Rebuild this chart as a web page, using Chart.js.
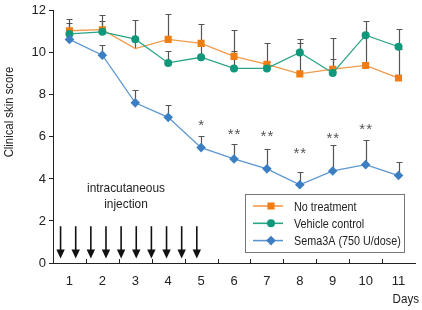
<!DOCTYPE html>
<html>
<head>
<meta charset="utf-8">
<script src="https://cdn.jsdelivr.net/npm/chart.js@4.4.0/dist/chart.umd.min.js"></script>
<style>
html,body{margin:0;padding:0;background:#fff}
canvas{display:block}
</style>
</head>
<body>
<canvas id="c" width="422" height="310"></canvas>
<script>
/* ===== data ===== */
const days = ['1','2','3','4','5','6','7','8','9','10','11'];
const noTreat   = [11.05,11.1,10.2,10.64,10.45,9.83,9.45,9.0,9.22,9.4,8.8];
const noTreatSD = [0.55,0.7,0.4,1.2,0.92,1.24,1.03,1.45,0.5,1.4,1.4];
const vehicle   = [10.9,11.0,10.65,9.52,9.79,9.26,9.26,10.02,9.04,10.84,10.29];
const vehicleSD = [0.5,0.5,0.9,0.55,0.55,0.85,0.3,0.66,1.65,0.66,0.83];
const sema      = [10.64,9.89,7.62,6.93,5.49,4.95,4.48,3.72,4.38,4.68,4.16];
const semaSD    = [0.4,0.49,0.6,0.58,0.56,0.73,0.95,0.59,1.24,1.18,0.63];
const stars     = ['','','','','*','**','**','**','**','**',''];
const starLevel = [null,null,null,null,6.57,6.14,6.06,5.22,5.97,6.39,null];
const injectionDays = [0.73,1.19,1.65,2.11,2.57,3.03,3.49,3.95,4.41,4.87];
const yTicks = [0,2,4,6,8,10,12];

const FONT = '"Liberation Sans Narrow","Liberation Sans",Arial,sans-serif';
const C_OR = '#ee7d14', C_GR = '#11977a', C_BL = '#3b7fc2';
const C_OR_L = '#f19a4a', C_GR_L = '#2aa487', C_BL_L = '#5b97d2';

const series = [
  {label:'No treatment', data:noTreat, sd:noTreatSD, color:C_OR, line:C_OR_L, style:'rect', r:5, order:3, noMarker:[2]},
  {label:'Vehicle control', data:vehicle, sd:vehicleSD, color:C_GR, line:C_GR_L, style:'circle', r:4, order:2, noMarker:[]},
  {label:'Sema3A (750 U/dose)', data:sema, sd:semaSD, color:C_BL, line:C_BL_L, style:'rectRot', r:4.8, order:1, noMarker:[]}
];

const crisp = v => Math.round(v)+0.5;

// 窄字：水平壓縮畫字
function narrowText(ctx, s, x, y, sx, align){
  ctx.save(); ctx.translate(x,y); ctx.scale(sx,1);
  ctx.textAlign=align; ctx.fillText(s,0,0);
  ctx.restore();
}

/* 誤差棒（只畫上方） */
const errorBars = {
  id:'errorBars',
  beforeDatasetsDraw(chart){
    const {ctx, scales:{x,y}} = chart;
    ctx.save();
    ctx.strokeStyle='#555'; ctx.lineWidth=1.2;
    series.forEach(s=>{
      s.data.forEach((v,i)=>{
        const px=crisp(x.getPixelForValue(i)), y0=y.getPixelForValue(v), y1=Math.round(y.getPixelForValue(v+s.sd[i]))+0.5;
        ctx.beginPath();
        ctx.moveTo(px,y0); ctx.lineTo(px,y1);
        ctx.moveTo(px-3,y1); ctx.lineTo(px+3,y1);
        ctx.stroke();
      });
    });
    ctx.restore();
  }
};

/* 其他標註：箭頭、文字、星號、圖例、標題 */
const extras = {
  id:'extras',
  afterDraw(chart){
    const {ctx, scales:{x,y}, chartArea:a} = chart;
    ctx.save();

    // x 軸內向刻度
    ctx.strokeStyle='#222'; ctx.lineWidth=1;
    for(let i=0;i<days.length-1;i++){
      const px=crisp(x.getPixelForValue(i+0.5));
      ctx.beginPath(); ctx.moveTo(px,a.bottom); ctx.lineTo(px,a.bottom-4); ctx.stroke();
    }

    // injection arrows
    ctx.fillStyle='#111'; ctx.strokeStyle='#111'; ctx.lineWidth=1.6;
    injectionDays.forEach(d=>{
      const px=x.getPixelForValue(d-1);
      const top=y.getPixelForValue(1.75), tip=y.getPixelForValue(0.22);
      ctx.beginPath(); ctx.moveTo(px,top); ctx.lineTo(px,tip-6); ctx.stroke();
      ctx.beginPath(); ctx.moveTo(px-4.2,tip-9); ctx.lineTo(px+4.2,tip-9); ctx.lineTo(px,tip); ctx.closePath(); ctx.fill();
    });

    ctx.fillStyle='#222';
    ctx.font='13.5px '+FONT; ctx.textBaseline='middle';
    narrowText(ctx,'intracutaneous',126,188,0.88,'center');
    narrowText(ctx,'injection',126,204,0.88,'center');

    // 星號
    ctx.fillStyle='#555'; ctx.font='15px '+FONT;
    ctx.letterSpacing='1px';
    ctx.textAlign='center';
    stars.forEach((s,i)=>{
      if(!s) return;
      ctx.fillText(s, x.getPixelForValue(i)+0.5, y.getPixelForValue(starLevel[i])+1);
    });
    ctx.letterSpacing='0px';

    // 軸標題
    ctx.fillStyle='#222'; ctx.font='13.5px '+FONT;
    narrowText(ctx,'Days',419,299,0.86,'right');
    ctx.save();
    ctx.translate(9,112); ctx.rotate(-Math.PI/2);
    narrowText(ctx,'Clinical skin score',0,0,0.84,'center');
    ctx.restore();

    // 圖例
    ctx.fillStyle='#fff'; ctx.fillRect(245,194,159,58);
    ctx.strokeStyle='#777'; ctx.lineWidth=1; ctx.strokeRect(245.5,194.5,159,58);
    series.forEach((s,k)=>{
      const ry=206+k*17.3;
      ctx.strokeStyle=s.line; ctx.lineWidth=1.6;
      ctx.beginPath(); ctx.moveTo(253,ry); ctx.lineTo(283,ry); ctx.stroke();
      ctx.fillStyle=s.color; ctx.strokeStyle=s.color;
      Chart.helpers.drawPoint(ctx,{pointStyle:s.style,radius:s.r,rotation:0,borderWidth:0},271,ry);
      ctx.fillStyle='#222'; ctx.font='13.5px '+FONT;
      narrowText(ctx,s.label,294,ry+1,0.8,'left');
    });
    ctx.restore();
  }
};

new Chart(document.getElementById('c'),{
  type:'line',
  data:{
    labels:days,
    datasets:series.map(s=>({
      label:s.label, data:s.data, order:s.order,
      borderColor:s.line, borderWidth:1.3, tension:0,
      pointStyle:s.style,
      pointRadius:c=>s.noMarker.includes(c.dataIndex)?0:s.r,
      pointHoverRadius:s.r,
      pointBackgroundColor:s.color, pointBorderColor:s.color, pointBorderWidth:0
    }))
  },
  options:{
    responsive:false, animation:false,
    layout:{padding:{top:9,right:7,left:0,bottom:0}},
    plugins:{legend:{display:false}, tooltip:{enabled:false}},
    scales:{
      x:{
        type:'category', offset:true,
        grid:{display:true, drawOnChartArea:false, drawTicks:false},
        border:{display:true, color:'#222', width:1},
        ticks:{color:'#222', font:{family:FONT, size:13}, padding:11, maxRotation:0, autoSkip:false},
        afterFit:s=>{s.height=47;}
      },
      y:{
        min:0, max:12,
        afterBuildTicks:s=>{s.ticks=yTicks.map(v=>({value:v}));},
        grid:{display:true, drawOnChartArea:false, drawTicks:true, tickLength:4, color:'#222'},
        border:{display:true, color:'#222', width:1},
        ticks:{color:'#222', font:{family:FONT, size:13}, padding:3},
        afterFit:s=>{s.width=53;}
      }
    }
  },
  plugins:[errorBars, extras]
});
</script>
</body>
</html>
